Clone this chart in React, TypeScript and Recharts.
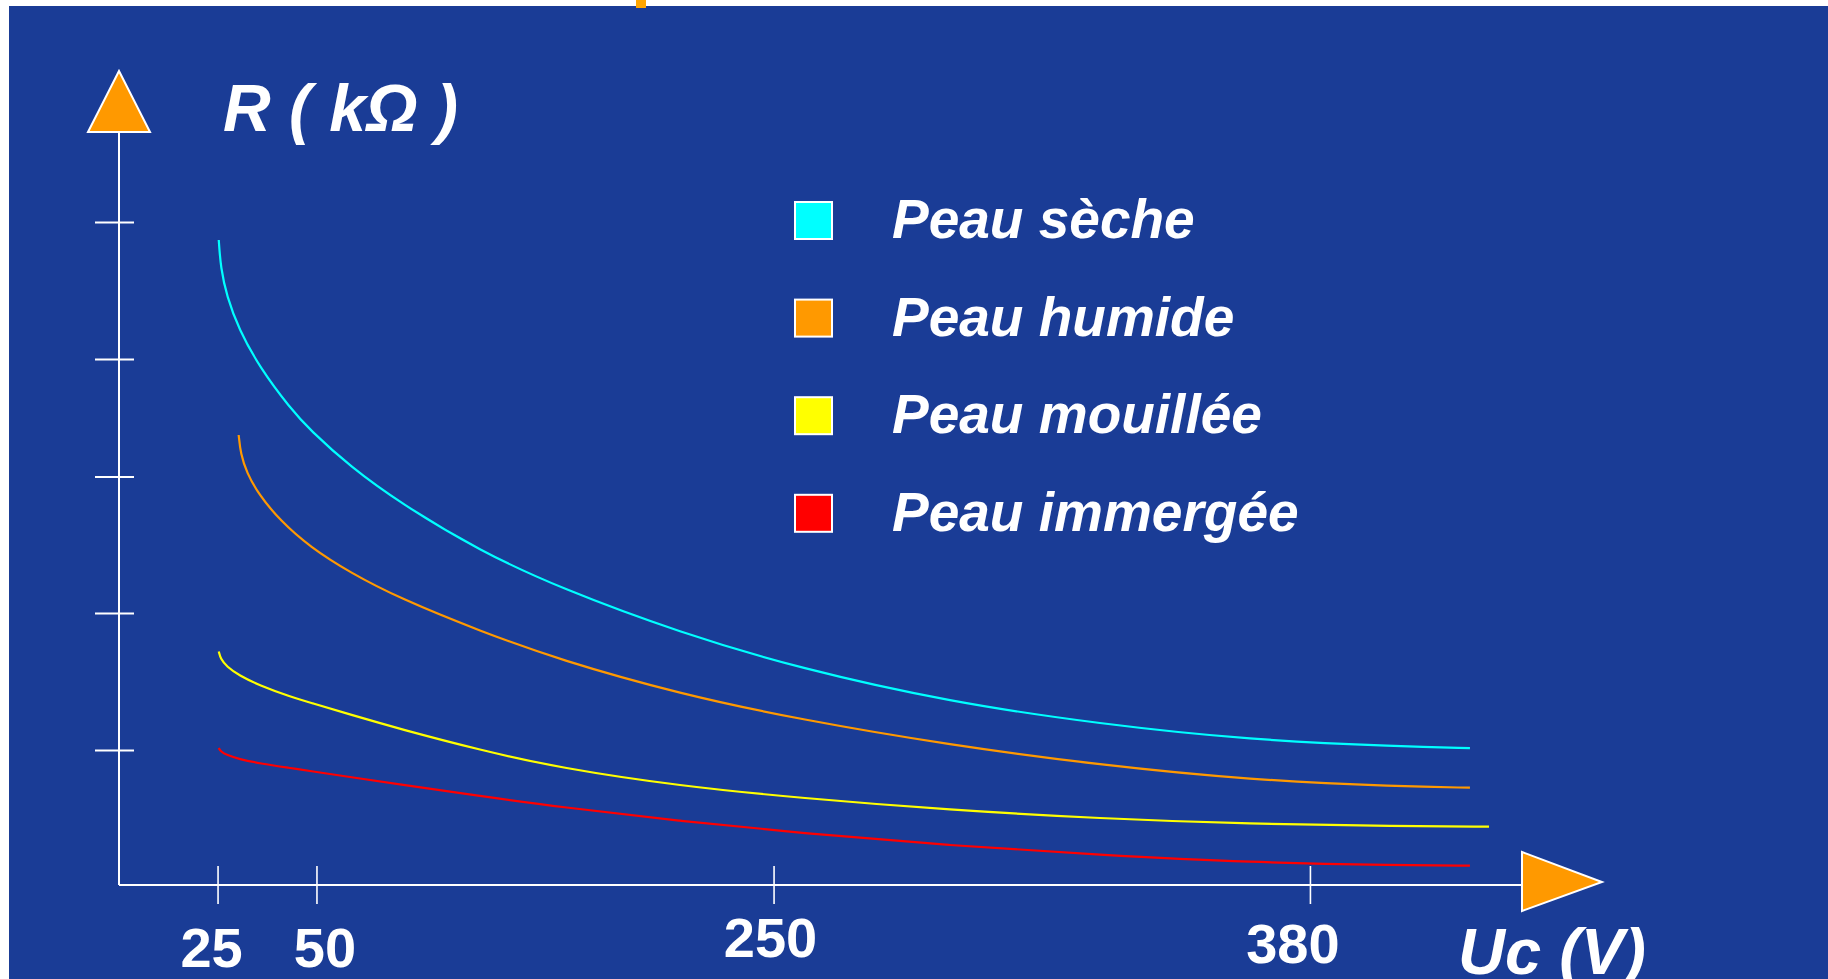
import React from 'react';
import { LineChart, Line, XAxis, YAxis, Legend, ReferenceDot } from 'recharts';

// Series
const seriesNames = ['Peau sèche', 'Peau humide', 'Peau mouillée', 'Peau immergée'];
const seriesColors = ['#00FFFF', '#FF9900', '#FFFF00', '#FF0000'];

// Schematic abscissa (drawing units 0..100) and tick labels (volts)
const xTickPositions = [7.06, 14.11, 46.69, 84.92];
const xTickLabels = ['25', '50', '250', '380'];
// Unlabelled ordinate ticks (drawing units 0..100)
const yTickPositions = [17.85, 36.04, 54.18, 69.79, 87.98];

const secheU = [7.11, 7.25, 7.68, 8.53, 10.05, 12.19, 13.61, 16.46, 20.03, 25.73, 31.43, 39.99, 48.54, 59.23, 69.92, 80.61, 91.3, 96.29];
const secheR = [85.66, 81.94, 78.22, 73.84, 68.66, 63.35, 60.42, 55.6, 50.73, 44.35, 39.44, 33.5, 28.75, 24.3, 21.38, 19.26, 18.39, 18.19];

const humideU = [8.53, 8.67, 9.1, 9.96, 11.48, 13.61, 16.46, 20.03, 25.73, 31.43, 39.99, 48.54, 59.23, 69.92, 80.61, 91.3, 96.29];
const humideR = [59.76, 57.26, 54.77, 51.86, 48.41, 44.89, 41.5, 38.05, 33.73, 29.88, 25.37, 21.98, 18.59, 15.94, 13.95, 13.08, 12.92];

const mouilleeU = [7.11, 7.25, 7.68, 8.53, 10.05, 12.19, 13.61, 16.46, 20.03, 25.73, 31.43, 39.99, 48.54, 59.23, 69.92, 80.61, 91.3, 97.65];
const mouilleeR = [31.01, 30.01, 29.02, 27.86, 26.48, 25.03, 24.24, 22.64, 20.72, 17.93, 15.54, 13.15, 11.55, 9.96, 8.83, 8.1, 7.81, 7.74];

const immergeeU = [7.11, 7.25, 7.68, 8.53, 10.05, 12.19, 13.61, 16.46, 20.03, 25.73, 31.43, 39.99, 48.54, 59.23, 69.92, 80.61, 91.3, 96.29];
const immergeeR = [18.19, 17.73, 17.26, 16.73, 16.14, 15.54, 15.14, 14.34, 13.35, 11.82, 10.36, 8.5, 6.91, 5.25, 3.98, 2.99, 2.63, 2.56];

const zip = (u: number[], r: number[]) => u.map((x, i) => ({ u: x, r: r[i] }));
const seriesData = [zip(secheU, secheR), zip(humideU, humideR), zip(mouilleeU, mouilleeR), zip(immergeeU, immergeeR)];

const FONT = '"Liberation Sans", Arial, Helvetica, sans-serif';
const BG = '#1A3C96';
const ARROW = '#FF9900';

const xLabelNudge = [
  { dx: -6.5, dy: 82 },
  { dx: 8, dy: 82 },
  { dx: -3.5, dy: 72 },
  { dx: -17.5, dy: 78 },
];

const XTick = (props: any) => {
  const { x, y, payload } = props;
  const i = xTickPositions.indexOf(payload.value);
  const n = xLabelNudge[i] || { dx: 0, dy: 80 };
  return (
    <g>
      <line x1={x} x2={x} y1={y - 19} y2={y + 19} stroke="#fff" strokeWidth={1.6} />
      <text x={x + n.dx} y={y + n.dy} textAnchor="middle" fill="#fff" fontFamily={FONT} fontWeight={700} fontSize={56}>
        {xTickLabels[i]}
      </text>
    </g>
  );
};

const YTick = (props: any) => {
  const { x, y } = props;
  return <line x1={x - 24} x2={x + 15} y1={y} y2={y} stroke="#fff" strokeWidth={2} />;
};

const renderLegend = (props: any) => {
  const payload = [...(props.payload || [])].sort(
    (a: any, b: any) => seriesNames.indexOf(a.value) - seriesNames.indexOf(b.value)
  );
  return (
    <svg width={560} height={420} style={{ display: 'block', overflow: 'visible' }}>
      {payload.map((p: any, i: number) => {
        const top = 37 + i * 97.6;
        return (
          <g key={p.value}>
            <rect x={5} y={top} width={37} height={37} fill={p.color} stroke="#fff" strokeWidth={2} />
            <text x={102} y={top + 36} fill="#fff" fontFamily={FONT} fontWeight={700} fontStyle="italic" fontSize={55}>
              {p.value}
            </text>
          </g>
        );
      })}
    </svg>
  );
};

const upArrow = (p: any) => (
  <polygon
    points={`${p.cx},${p.cy - 61} ${p.cx - 31},${p.cy} ${p.cx + 31},${p.cy}`}
    fill={ARROW}
    stroke="#fff"
    strokeWidth={2}
  />
);

const rightArrow = (p: any) => (
  <polygon
    points={`${p.cx},${p.cy - 33} ${p.cx + 80},${p.cy - 3} ${p.cx},${p.cy + 26}`}
    fill={ARROW}
    stroke="#fff"
    strokeWidth={2}
  />
);

export default function App() {
  return (
    <div style={{ position: 'absolute', left: 0, top: 0, width: 1828, height: 979, background: '#fff', overflow: 'hidden' }}>
      <div style={{ position: 'absolute', left: 9, top: 6, width: 1819, height: 973, background: BG }} />
      <div style={{ position: 'absolute', left: 636, top: 0, width: 10, height: 8, background: '#FFA500' }} />
      <div style={{ position: 'absolute', left: 0, top: 0 }}>
        <LineChart width={1828} height={979} margin={{ top: 132, right: 306, bottom: 0, left: 0 }}>
          <XAxis
            type="number"
            dataKey="u"
            domain={[0, 100]}
            ticks={xTickPositions}
            interval={0}
            height={94}
            tickSize={0}
            tickMargin={0}
            tickLine={false}
            tick={<XTick />}
            axisLine={{ stroke: '#fff', strokeWidth: 2 }}
            allowDataOverflow
          />
          <YAxis
            type="number"
            dataKey="r"
            domain={[0, 100]}
            ticks={yTickPositions}
            interval={0}
            width={119}
            tickSize={0}
            tickMargin={0}
            tickLine={false}
            tick={<YTick />}
            axisLine={{ stroke: '#fff', strokeWidth: 2 }}
            allowDataOverflow
          />
          {seriesData.map((d, i) => (
            <Line
              key={seriesNames[i]}
              data={d}
              dataKey="r"
              name={seriesNames[i]}
              type="basis"
              stroke={seriesColors[i]}
              strokeWidth={2.2}
              dot={false}
              activeDot={false}
              isAnimationActive={false}
            />
          ))}
          <ReferenceDot x={0} y={100} r={0} shape={upArrow} ifOverflow="visible" />
          <ReferenceDot x={100} y={0} r={0} shape={rightArrow} ifOverflow="visible" />
          <Legend
            layout="vertical"
            align="center"
            verticalAlign="middle"
            content={renderLegend}
            wrapperStyle={{ left: 790, top: 165, width: 560, height: 420, right: 'auto', bottom: 'auto' }}
          />
          <text x={223} y={131} fill="#fff" fontFamily={FONT} fontWeight={700} fontStyle="italic" fontSize={66}>
            R ( kΩ )
          </text>
          <text x={1458} y={974} fill="#fff" fontFamily={FONT} fontWeight={700} fontStyle="italic" fontSize={65}>
            Uc (V)
          </text>
        </LineChart>
      </div>
    </div>
  );
}
